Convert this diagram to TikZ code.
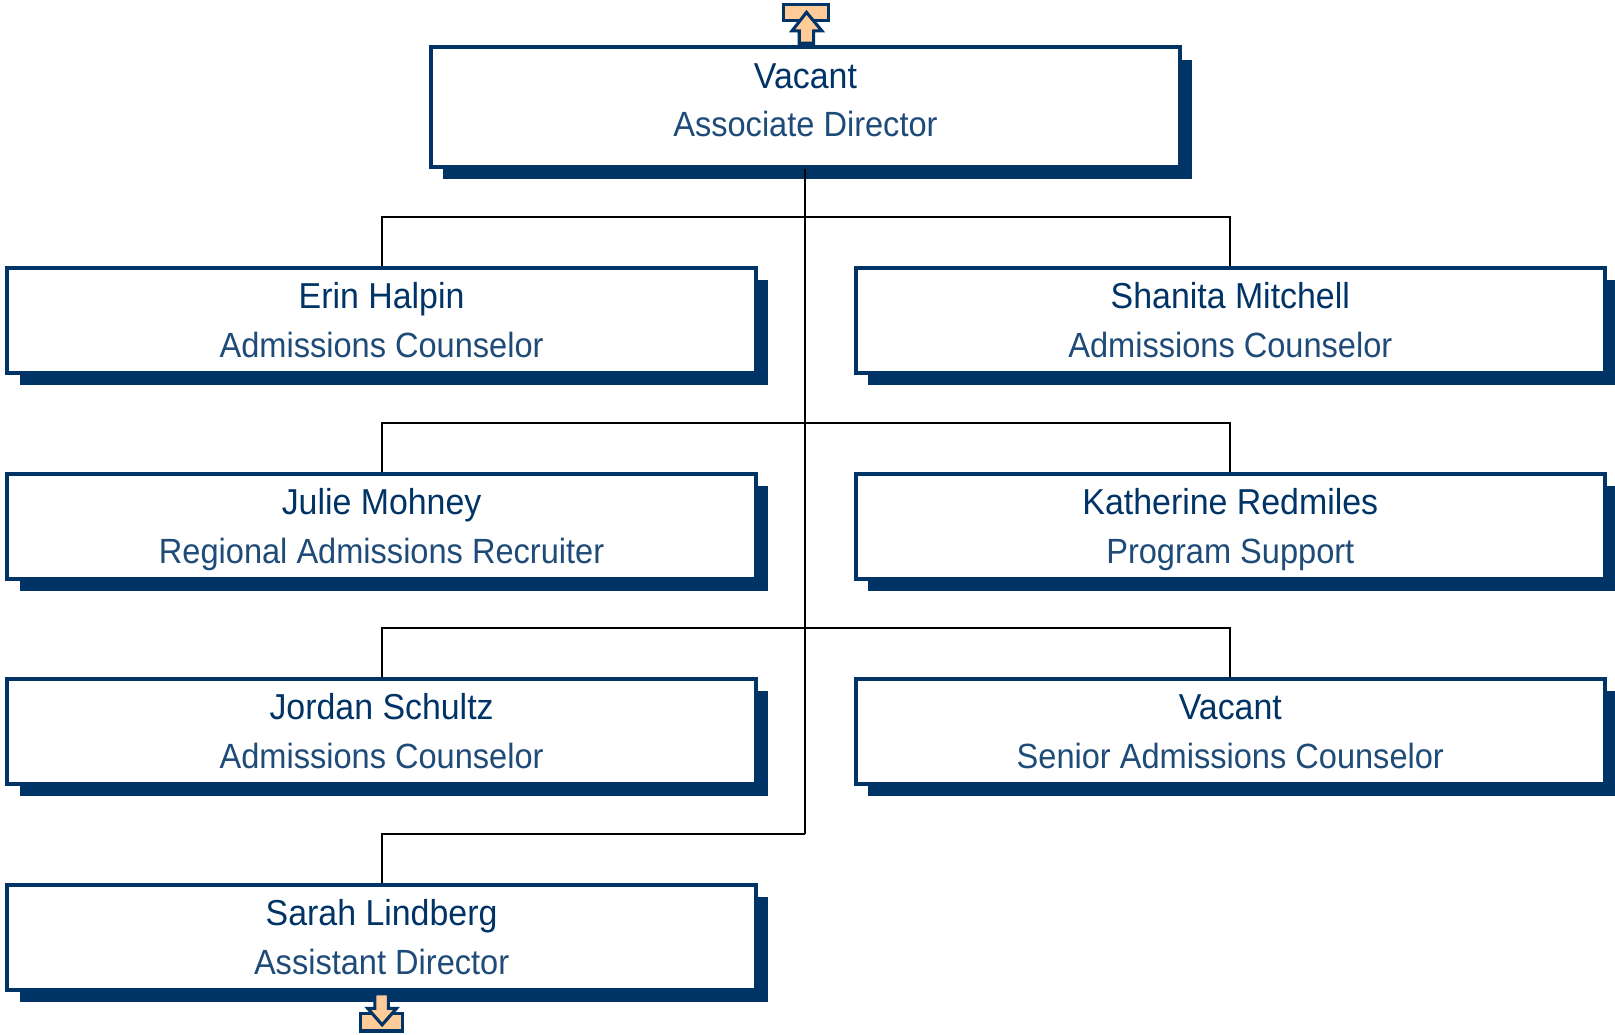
\documentclass[tikz,border=0pt]{standalone}
\usepackage{fontspec}
\setmainfont{Liberation Sans}
\newfontfamily\whofont{Liberation Sans}[FakeStretch=0.94]
\newfontfamily\rolefont{Liberation Sans}[FakeStretch=0.93]
\usepackage{tikz}
\usetikzlibrary{positioning,calc,shadows}
\definecolor{deptnavy}{HTML}{003366}
\definecolor{deptpeach}{HTML}{FFCC99}

% one staff card: name, centre, person, role
\newcommand{\staffcard}[5][]{%
  \node[card,#1] (#2) at (#3) {};
  \node[who]  (#2-who)  at ($(#2.north)+(0,42)$) {#4};
  \node[role] (#2-role) at ($(#2.north)+(0,89)$) {#5};
}

\begin{document}
\begin{tikzpicture}[
  x=1pt, y=-1pt,
  card/.style={draw=deptnavy, line width=4pt, fill=white, inner sep=0pt,
               minimum width=727pt, minimum height=102pt,
               general shadow={fill=deptnavy, shadow xshift=12pt, shadow yshift=-12pt}},
  who/.style={anchor=base, inner sep=0pt, text=deptnavy,
              font=\whofont\fontsize{35}{40}\selectfont},
  role/.style={anchor=base, inner sep=0pt, text=deptnavy!88,
               font=\rolefont\fontsize{34}{40}\selectfont},
  link/.style={draw=black, line width=2pt},
  icon/.style={draw=deptnavy, fill=deptpeach, line width=3pt, line join=miter}
]
  \useasboundingbox (0,0) rectangle (1568,1004);

  \staffcard[minimum height=116pt]{boss}{782,104}{Vacant}{Associate Director}
  \staffcard{erin}{370.5,311}{Erin Halpin}{Admissions Counselor}
  \staffcard{shanita}{1194.5,311}{Shanita Mitchell}{Admissions Counselor}
  \staffcard{julie}{370.5,511}{Julie Mohney}{Regional Admissions Recruiter}
  \staffcard{katherine}{1194.5,511}{Katherine Redmiles}{Program Support}
  \staffcard{jordan}{370.5,710}{Jordan Schultz}{Admissions Counselor}
  \staffcard{vacant}{1194.5,710}{Vacant}{Senior Admissions Counselor}
  \staffcard{sarah}{370.5,910}{Sarah Lindberg}{Assistant Director}

  % reporting lines
  \coordinate (bus1) at (782,211);
  \coordinate (bus2) at (782,411);
  \coordinate (bus3) at (782,610);
  \coordinate (bus4) at (782,810);
  \draw[link] (boss.south) -- (bus4);
  \draw[link] (bus1) -| (erin.north);
  \draw[link] (bus1) -| (shanita.north);
  \draw[link] (bus2) -| (julie.north);
  \draw[link] (bus2) -| (katherine.north);
  \draw[link] (bus3) -| (jordan.north);
  \draw[link] (bus3) -| (vacant.north);
  \draw[link] (bus4) -| (sarah.north);

  % page-link icons
  \draw[icon] (761,4) rectangle (804,20);
  \draw[icon] (783,12) -- (798,30) -- (790,30) -- (790,42) -- (776,42)
              -- (776,30) -- (769,30) -- cycle;
  \draw[icon] (350,984) rectangle (391,1001);
  \draw[icon] (364,965) -- (377,965) -- (377,979) -- (385,979) -- (371,995)
              -- (357,979) -- (364,979) -- cycle;
\end{tikzpicture}
\end{document}
